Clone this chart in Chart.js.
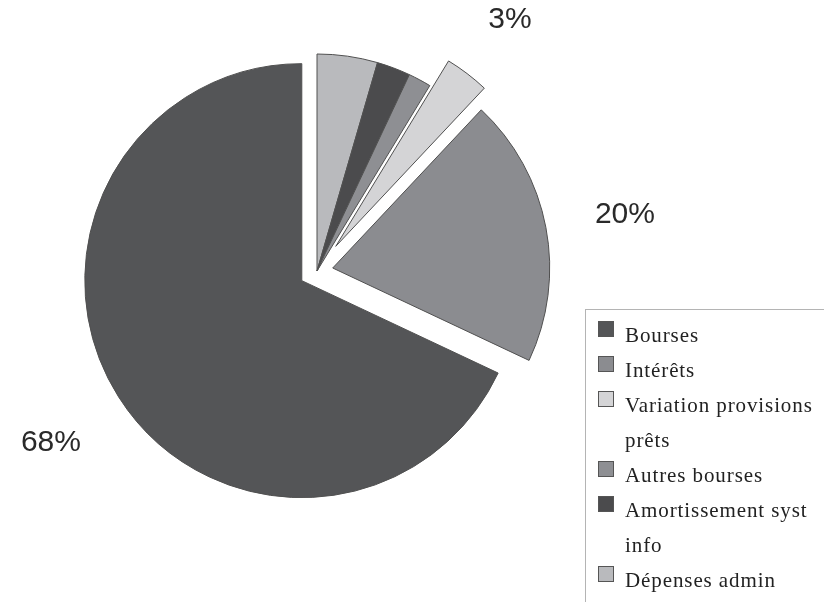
<!DOCTYPE html>
<html>
<head>
<meta charset="utf-8">
<script src="https://cdn.jsdelivr.net/npm/chart.js@4.4.1/dist/chart.umd.min.js"></script>
<style>
  body { margin: 0; background: #fff; }
  #wrap { position: relative; width: 824px; height: 602px; overflow: hidden; }
  #legend {
    position: absolute; left: 585px; top: 309px; width: 260px; height: 320px;
    border: 1px solid #b4b4b4; box-sizing: border-box; padding: 8px 0 0 0;
    font-family: "Liberation Serif", "DejaVu Serif", serif; font-size: 21px;
    letter-spacing: 0.9px; color: #222; line-height: 35px;
  }
  .item { position: relative; padding-left: 39px; white-space: nowrap; }
  .sw { position: absolute; left: 12px; top: 3px; width: 16px; height: 16px;
        border: 1px solid #555; box-sizing: border-box; }
</style>
</head>
<body>
<div id="wrap">
  <canvas id="pieChart" width="824" height="602"></canvas>
  <div id="legend"></div>
</div>
<script>
// legend order (the picture runs counter-clockwise from 12 o'clock in this order)
const categories = ['Bourses', 'Intérêts', ['Variation provisions', 'prêts'], 'Autres bourses', ['Amortissement syst', 'info'], 'Dépenses admin'];
const shares = [68, 20, 3.3, 1.7, 2.5, 4.5];
const pctLabels = ['68%', '20%', '3%', '', '', ''];
const sliceColors = ['#545557', '#8b8c90', '#d4d4d6', '#8e8f93', '#4b4b4d', '#b9babd'];
// how far each slice is pulled out, px
const explode = [18, 16, 31, 0, 0, 0];

// Chart.js draws clockwise, so feed it reversed
const rev = arr => arr.slice().reverse();
const explodeRev = rev(explode);

// the built-in offset also grows the radius, so pull slices out by hand
const explodePlugin = {
    id: 'explode',
    beforeDatasetDraw(chart, args) {
        const ctx = chart.ctx;
        args.meta.data.forEach((arc, i) => {
            const mid = (arc.startAngle + arc.endAngle) / 2;
            const s = explodeRev[i] || 0;
            ctx.save();
            ctx.translate(Math.cos(mid) * s, Math.sin(mid) * s);
            arc.draw(ctx);
            ctx.restore();
        });
        return false;
    }
};

const pctLabelPlugin = {
    id: 'pctLabels',
    afterDatasetsDraw(chart) {
        const ctx = chart.ctx;
        const meta = chart.getDatasetMeta(0);
        const labels = rev(pctLabels);
        const fontSize = 30;
        const capH = fontSize * 0.716;
        ctx.save();
        ctx.font = fontSize + 'px "Liberation Sans", Arial, sans-serif';
        ctx.fillStyle = '#2a2a2a';
        ctx.textAlign = 'center';
        ctx.textBaseline = 'alphabetic';
        meta.data.forEach((arc, i) => {
            if (!labels[i]) return;
            const mid = (arc.startAngle + arc.endAngle) / 2;
            const cx = Math.cos(mid), cy = Math.sin(mid);
            const w = ctx.measureText(labels[i]).width;
            // keep the text box a fixed gap off the rim
            const d = arc.outerRadius + explodeRev[i] + 49 + Math.abs(cx) * w / 2 + Math.abs(cy) * capH / 2;
            ctx.fillText(labels[i], arc.x + cx * d, arc.y + cy * d + capH / 2);
        });
        ctx.restore();
    }
};

new Chart(document.getElementById('pieChart'), {
    type: 'pie',
    data: {
        labels: rev(categories),
        datasets: [{
            data: rev(shares),
            backgroundColor: rev(sliceColors),
            borderColor: '#505050',
            borderWidth: 1
        }]
    },
    options: {
        responsive: false,
        animation: false,
        radius: 217,
        layout: { padding: { left: 0, right: 190, top: 0, bottom: 60 } },
        plugins: {
            legend: { display: false },
            tooltip: { enabled: false }
        }
    },
    plugins: [explodePlugin, pctLabelPlugin]
});

// html legend
const legendEl = document.getElementById('legend');
categories.forEach((cat, i) => {
    const item = document.createElement('div');
    item.className = 'item';
    const sw = document.createElement('span');
    sw.className = 'sw';
    sw.style.background = sliceColors[i];
    item.appendChild(sw);
    const lines = Array.isArray(cat) ? cat : [cat];
    lines.forEach((line, j) => {
        if (j > 0) item.appendChild(document.createElement('br'));
        item.appendChild(document.createTextNode(line));
    });
    legendEl.appendChild(item);
});
</script>
</body>
</html>
